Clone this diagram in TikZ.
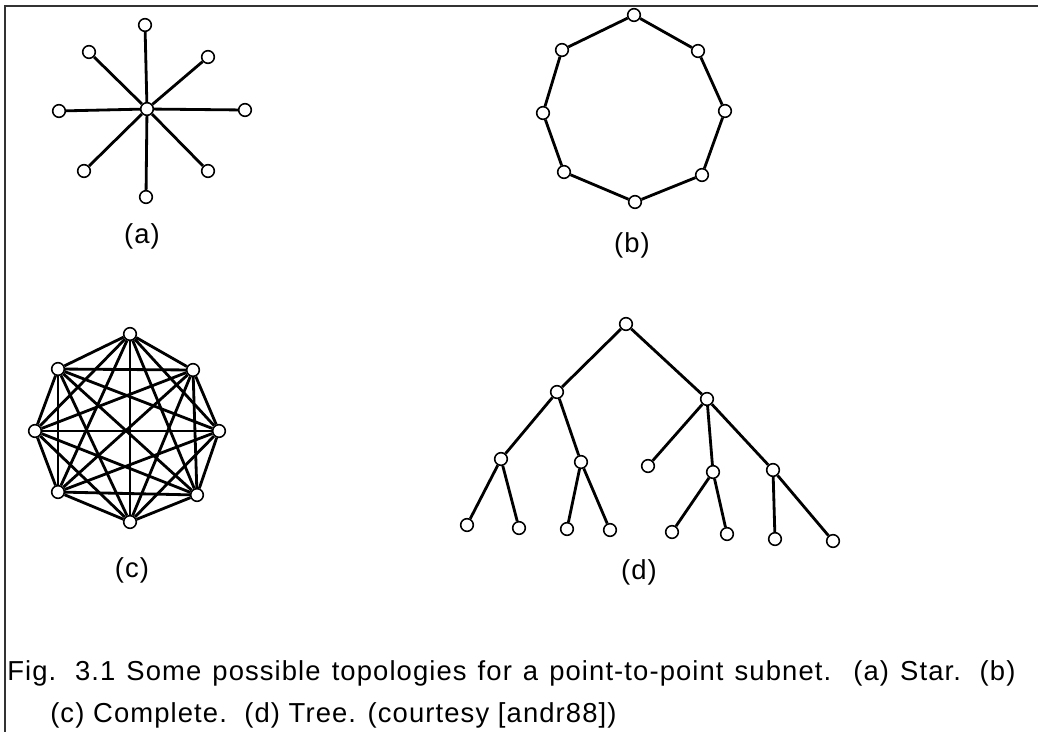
\documentclass[tikz,border=0pt]{standalone}
\usepackage{fontspec}
\setmainfont{Liberation Sans}
\newfontfamily\capfont[LetterSpace=4]{Liberation Sans}
\usetikzlibrary{calc}

\tikzset{
  vert/.style={circle,draw,fill=white,inner sep=0pt,minimum size=9pt,line width=1.1pt},
  edge/.style={line width=2pt},
  lbl/.style={font=\capfont\fontsize{19.5}{22}\selectfont}
}

\begin{document}
\begin{tikzpicture}[x=0.025cm,y=-0.025cm]
  \useasboundingbox (0,0) rectangle (1038,732);
  \draw[line width=1.2pt,black!80] (1038,6) -- (5,6) -- (5,732);
  % (a) star
  \node[vert] (s0) at (147,109) {};
  \node[vert] (s1) at (145,25) {};
  \node[vert] (s2) at (208,57) {};
  \node[vert] (s3) at (245,110) {};
  \node[vert] (s4) at (208,171) {};
  \node[vert] (s5) at (146,197) {};
  \node[vert] (s6) at (84,171) {};
  \node[vert] (s7) at (59,111) {};
  \node[vert] (s8) at (89,52) {};
  \foreach \i in {1,...,8}
    \draw[edge] (s0) -- (s\i);
  \node[lbl] (la) at (142,236) {(a)};
  % (b) ring
  \node[vert] (r1) at (634,15) {};
  \node[vert] (r2) at (698,51) {};
  \node[vert] (r3) at (725,111) {};
  \node[vert] (r4) at (702,175) {};
  \node[vert] (r5) at (635,202) {};
  \node[vert] (r6) at (564,172) {};
  \node[vert] (r7) at (543,113) {};
  \node[vert] (r8) at (562,50) {};
  \foreach \i/\j in {1/2,2/3,3/4,4/5,5/6,6/7,7/8,8/1}
    \draw[edge] (r\i) -- (r\j);
  \node[lbl] (lb) at (632,245) {(b)};
  % (c) complete
  \node[vert] (c1) at (130,334) {};
  \node[vert] (c2) at (193,370) {};
  \node[vert] (c3) at (219,431) {};
  \node[vert] (c4) at (197,495) {};
  \node[vert] (c5) at (130,522) {};
  \node[vert] (c6) at (58,492) {};
  \node[vert] (c7) at (35,431) {};
  \node[vert] (c8) at (58,369) {};
  \foreach \i in {1,...,7}{
    \pgfmathtruncatemacro{\k}{\i+1}
    \foreach \j in {\k,...,8}
      \draw[edge] (c\i) -- (c\j);
  }
  \node[lbl] (lc) at (132,570) {(c)};
  % (d) tree
  \node[vert] (t0) at (626,324) {};
  \node[vert] (tl) at (557,392) {};
  \node[vert] (tr) at (707,399) {};
  \node[vert] (tla) at (501,459) {};
  \node[vert] (tlb) at (581,462) {};
  \node[vert] (tla1) at (467,525) {};
  \node[vert] (tla2) at (519,528) {};
  \node[vert] (tlb1) at (567,529) {};
  \node[vert] (tlb2) at (610,530) {};
  \node[vert] (trx) at (648,466) {};
  \node[vert] (trc) at (713,472) {};
  \node[vert] (trd) at (773,470) {};
  \node[vert] (trc1) at (672,532) {};
  \node[vert] (trc2) at (727,534) {};
  \node[vert] (trd1) at (775,539) {};
  \node[vert] (trd2) at (833,541) {};
  \foreach \p/\c in {t0/tl,t0/tr,tl/tla,tl/tlb,tla/tla1,tla/tla2,tlb/tlb1,tlb/tlb2,
                     tr/trx,tr/trc,tr/trd,trc/trc1,trc/trc2,trd/trd1,trd/trd2}
    \draw[edge] (\p) -- (\c);
  \node[lbl] (ld) at (639,572) {(d)};
  % caption
  \node[lbl,anchor=base west,inner sep=0pt] (cap1) at (7,680)
    {\makebox[717pt][s]{Fig. 3.1 Some possible topologies for a point-to-point subnet.\ \ (a) Star. (b)}};
  \node[lbl,anchor=base west,inner sep=0pt] (cap2) at (50,722)
    {(c) Complete.\ \ (d) Tree. (courtesy [andr88])};
\end{tikzpicture}
\end{document}
